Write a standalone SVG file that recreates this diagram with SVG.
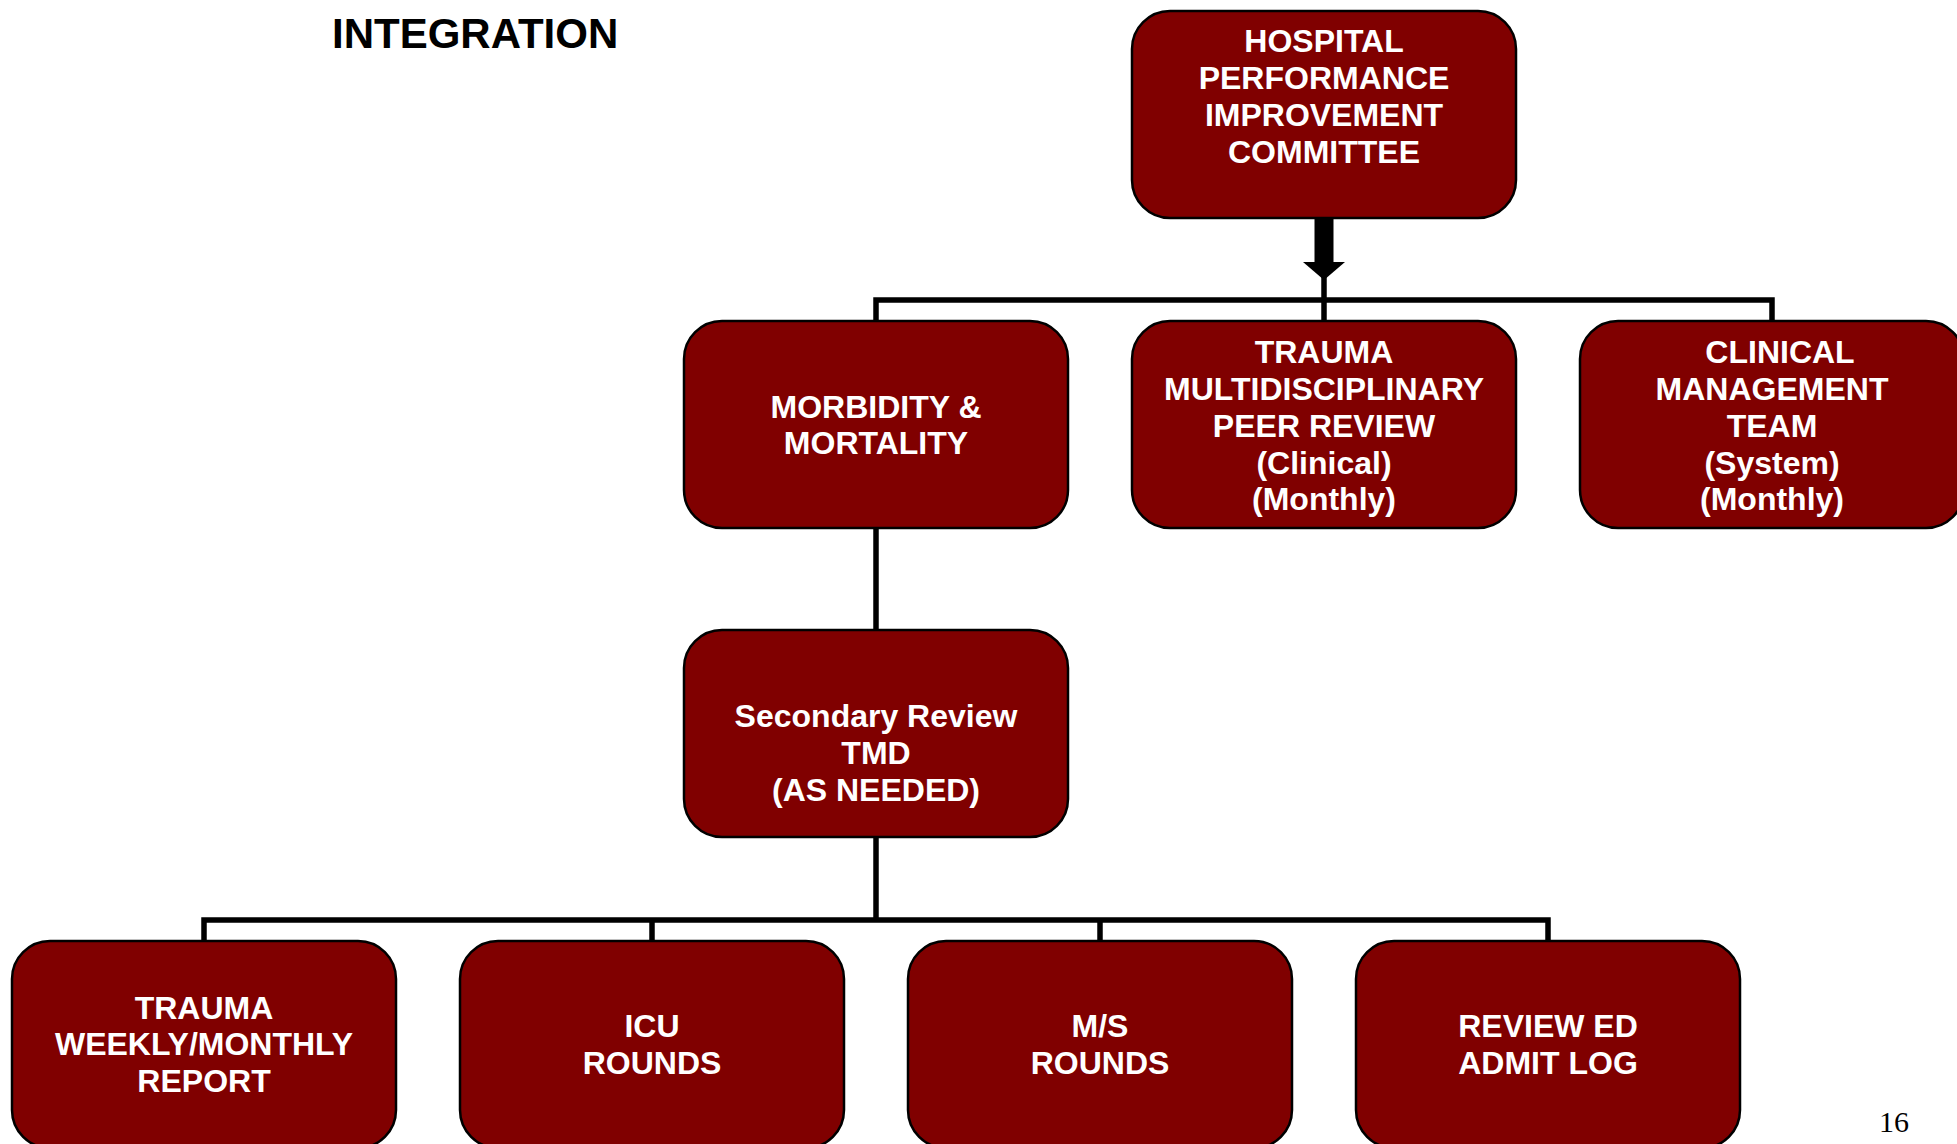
<svg xmlns="http://www.w3.org/2000/svg" width="1957" height="1144" viewBox="0 0 1957 1144">
<style>
.box{fill:#800000;stroke:#000;stroke-width:2.5}
.t{font-family:"Liberation Sans",Arial,sans-serif;font-weight:bold;font-size:32px;fill:#fff;text-anchor:middle}
.c{fill:none;stroke:#000;stroke-width:5.5}
</style>
<defs>
<marker id="ah" markerUnits="userSpaceOnUse" viewBox="0 -21 18 42" refX="0" refY="0" markerWidth="18" markerHeight="42" orient="auto">
<path d="M0,-21 L18,0 L0,21 z" fill="#000"/>
</marker>
</defs>
<rect width="1957" height="1144" fill="#fff"/>
<text x="332" y="48" font-family="Liberation Sans,Arial,sans-serif" font-weight="bold" font-size="42" fill="#000">INTEGRATION</text>
<g id="connectors">
<line x1="1324" y1="218" x2="1324" y2="262" stroke="#000" stroke-width="19" marker-end="url(#ah)"/>
<line class="c" x1="1324" y1="272" x2="1324" y2="322"/>
<path class="c" d="M876,322 V300 H1772 V322"/>
<line class="c" x1="876" y1="528" x2="876" y2="630"/>
<line class="c" x1="876" y1="837" x2="876" y2="920"/>
<path class="c" d="M204,942 V920 H1548 V942"/>
<line class="c" x1="652" y1="920" x2="652" y2="942"/>
<line class="c" x1="1100" y1="920" x2="1100" y2="942"/>
</g>
<g id="hpic">
<rect class="box" x="1132" y="11" width="384" height="207" rx="38"/>
<text class="t" x="1324" y="52">HOSPITAL</text>
<text class="t" x="1324" y="89">PERFORMANCE</text>
<text class="t" x="1324" y="126">IMPROVEMENT</text>
<text class="t" x="1324" y="163">COMMITTEE</text>
</g>
<g id="mm">
<rect class="box" x="684" y="321" width="384" height="207" rx="38"/>
<text class="t" x="876" y="418">MORBIDITY &amp;</text>
<text class="t" x="876" y="454">MORTALITY</text>
</g>
<g id="tmpr">
<rect class="box" x="1132" y="321" width="384" height="207" rx="38"/>
<text class="t" x="1324" y="363">TRAUMA</text>
<text class="t" x="1324" y="400">MULTIDISCIPLINARY</text>
<text class="t" x="1324" y="437">PEER REVIEW</text>
<text class="t" x="1324" y="474">(Clinical)</text>
<text class="t" x="1324" y="510">(Monthly)</text>
</g>
<g id="cmt">
<rect class="box" x="1580" y="321" width="384" height="207" rx="38"/>
<text class="t" x="1780" y="363">CLINICAL</text>
<text class="t" x="1772" y="400">MANAGEMENT</text>
<text class="t" x="1772" y="437">TEAM</text>
<text class="t" x="1772" y="474">(System)</text>
<text class="t" x="1772" y="510">(Monthly)</text>
</g>
<g id="secondary">
<rect class="box" x="684" y="630" width="384" height="207" rx="38"/>
<text class="t" x="876" y="727">Secondary Review</text>
<text class="t" x="876" y="764">TMD</text>
<text class="t" x="876" y="801">(AS NEEDED)</text>
</g>
<g id="weekly">
<rect class="box" x="12" y="941" width="384" height="207" rx="38"/>
<text class="t" x="204" y="1019">TRAUMA</text>
<text class="t" x="204" y="1055">WEEKLY/MONTHLY</text>
<text class="t" x="204" y="1092">REPORT</text>
</g>
<g id="icu">
<rect class="box" x="460" y="941" width="384" height="207" rx="38"/>
<text class="t" x="652" y="1037">ICU</text>
<text class="t" x="652" y="1074">ROUNDS</text>
</g>
<g id="ms">
<rect class="box" x="908" y="941" width="384" height="207" rx="38"/>
<text class="t" x="1100" y="1037">M/S</text>
<text class="t" x="1100" y="1074">ROUNDS</text>
</g>
<g id="ed">
<rect class="box" x="1356" y="941" width="384" height="207" rx="38"/>
<text class="t" x="1548" y="1037">REVIEW ED</text>
<text class="t" x="1548" y="1074">ADMIT LOG</text>
</g>
<text x="1879" y="1132" font-family="Liberation Serif,Times New Roman,serif" font-size="30" fill="#000">16</text>
</svg>
